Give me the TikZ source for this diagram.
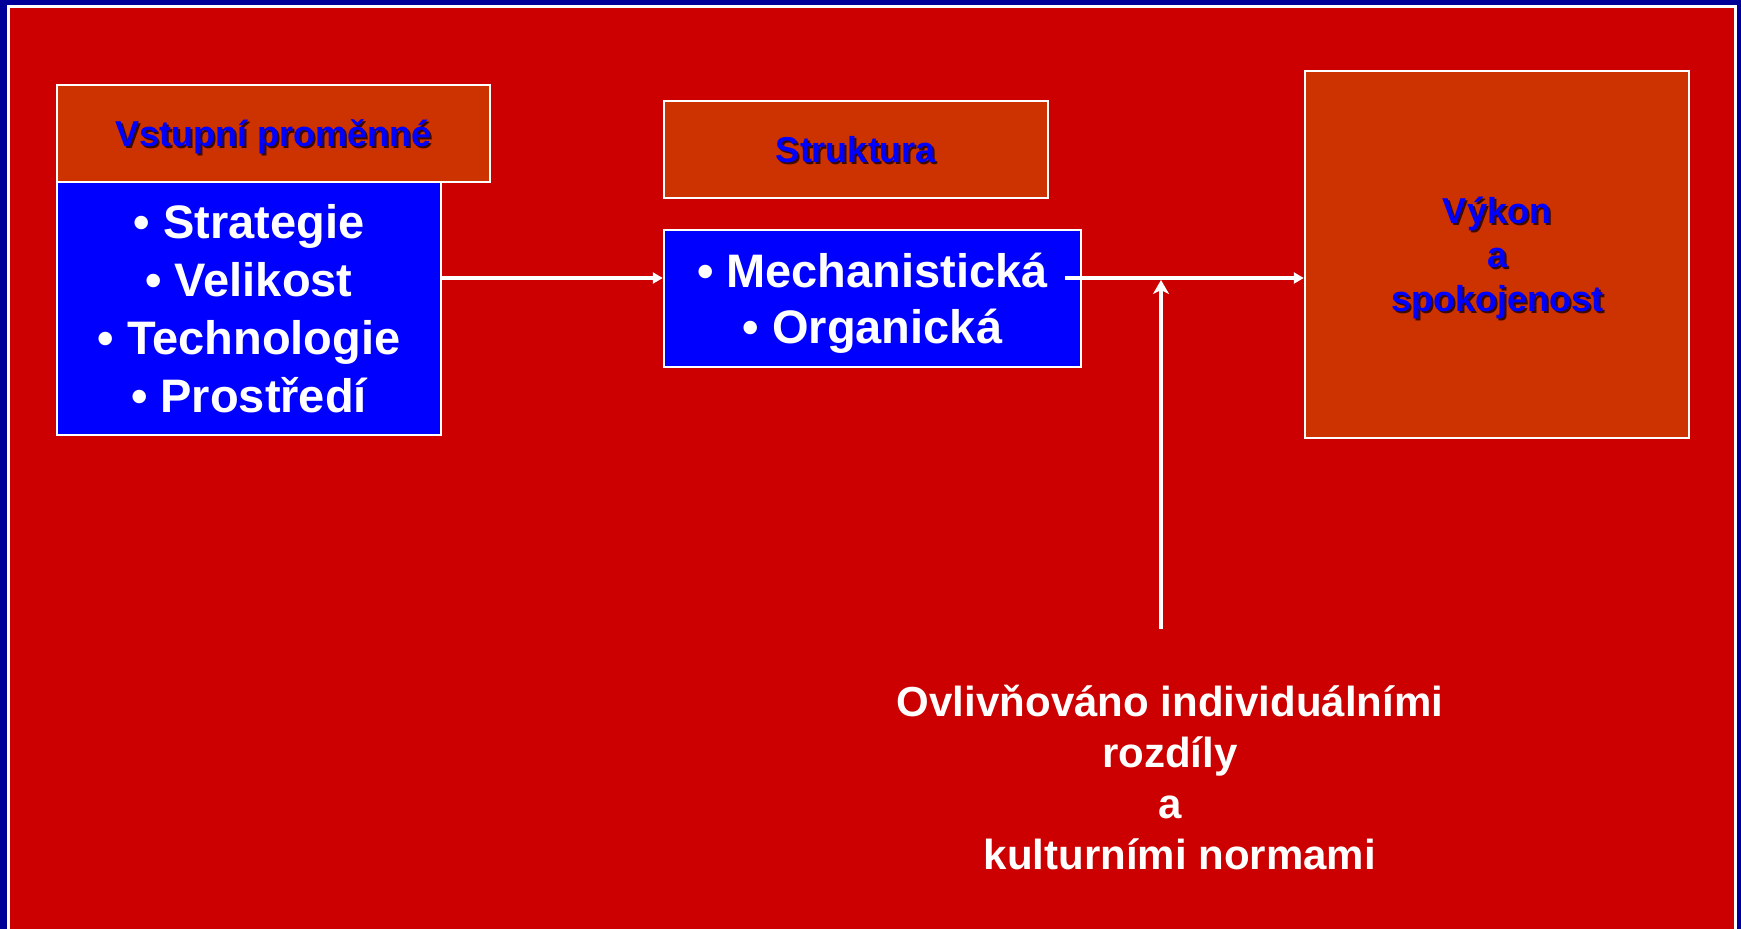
\documentclass[tikz,border=0pt]{standalone}
\usepackage{fontspec}
\setmainfont{Liberation Sans}
\usetikzlibrary{arrows.meta}

\definecolor{frameblue}{RGB}{0,0,153}
\definecolor{slidered}{RGB}{204,0,0}
\definecolor{headfill}{RGB}{204,51,0}
\definecolor{listblue}{RGB}{0,0,255}
\definecolor{shade}{RGB}{60,10,0}

% blue heading text with a small dark drop shadow
\newcommand\shadowed[1]{\leavevmode\rlap{\hspace{2pt}\raisebox{-2pt}{\color{shade}#1}}#1}
% invisible struts that fix the height of the first line and the depth of the last
\newcommand\hstrut[1]{\rule{0pt}{#1pt}}
\newcommand\dstrut[1]{\rule[-#1pt]{0pt}{#1pt}}

\begin{document}
\begin{tikzpicture}[x=1pt,y=-1pt,
  box/.style={draw=white,line width=2.5pt,inner sep=0pt,align=center},
  head/.style={box,fill=headfill,text=listblue,font=\fontsize{36}{44}\selectfont\bfseries},
  list/.style={box,fill=listblue,text=white,font=\fontsize{47}{58}\selectfont\bfseries},
  link/.style={white,line width=3.5pt,-{Triangle[length=10pt,width=11pt]}},
  uparrow/.style={white,line width=3.5pt,-{Stealth[length=14pt,width=16pt,inset=4pt]}},
  note/.style={text=white,align=center,inner sep=0pt,font=\fontsize{42}{51}\selectfont\bfseries}]

% slide frame
\fill[frameblue] (0,0) rectangle (1741,929);
\useasboundingbox (0,0) rectangle (1741,929);
\draw[white,line width=3pt,fill=slidered] (8.5,6) rectangle (1735.5,945);

% inputs
\node[head,minimum width=433pt,minimum height=97pt] (inhead) at (273.5,133.5)
  {\hstrut{37}\dstrut{12}\shadowed{Vstupní proměnné}};
\node[list,minimum width=384pt,minimum height=253pt] (inputs) at (249,308.5)
  {\hstrut{45}• Strategie\\• Velikost\\• Technologie\\\dstrut{12}• Prostředí};

% structure
\node[head,minimum width=384pt,minimum height=97pt] (structhead) at (856,149.5)
  {\hstrut{37}\dstrut{12}\shadowed{Struktura}};
\node[list,minimum width=417pt,minimum height=137pt,font=\fontsize{47}{56}\selectfont\bfseries] (structure) at (872.5,298.5)
  {\hstrut{45}• Mechanistická\\\dstrut{12}• Organická};

% outcome
\node[head,minimum width=384pt,minimum height=367pt] (result) at (1497,254.5)
  {\hstrut{37}\shadowed{Výkon}\\\shadowed{a}\\\dstrut{12}\shadowed{spokojenost}};

% moderating factors
\node[note] (influence) at (1170,779)
  {\hstrut{40}Ovlivňováno individuálními\\rozdíly\\a\\\dstrut{12}\hspace{20pt}kulturními normami};

% flow line and its points
\coordinate (flow) at (0,278);
\coordinate (mstart) at (1065,278);
\coordinate (ctop) at (1161,280);
\coordinate (cbot) at (1161,629);

\draw[link] (inputs.east |- flow) -- (structure.west |- flow);
\draw[link] (mstart) -- (result.west |- flow);
\draw[uparrow] (cbot) -- (ctop);
\end{tikzpicture}
\end{document}
